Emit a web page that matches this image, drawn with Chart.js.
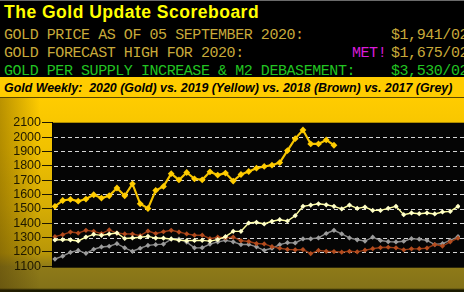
<!DOCTYPE html>
<html><head><meta charset="utf-8">
<script src="https://cdn.jsdelivr.net/npm/chart.js@4.4.1/dist/chart.umd.min.js"></script>
<style>
html,body{margin:0;padding:0;width:464px;height:292px;overflow:hidden;background:#000;}
#hdr{position:absolute;left:0;top:0;width:464px;height:77px;background:#000;border-top:1px solid #6a6a6a;box-sizing:border-box;}
.title{position:absolute;left:4px;top:1px;font:bold 17.5px "Liberation Sans",Arial,sans-serif;line-height:20px;color:#ffff00;letter-spacing:0.5px;white-space:pre;}
.led{position:absolute;font:15px "Liberation Mono","DejaVu Sans Mono",monospace;line-height:15px;letter-spacing:-0.44px;white-space:pre;}
.y{color:#c8aa3a;}
.g{color:#22c422;}
.m{color:#d81cd8;}
#bar{position:absolute;left:0;top:77px;width:464px;height:21px;background:#ffcc00;border-bottom:1px solid #5a4800;box-sizing:border-box;}
#bar span{position:absolute;left:4px;top:5px;font:italic bold 12.4px "Liberation Sans",Arial,sans-serif;line-height:13px;color:#000;white-space:pre;}
#wrap{position:absolute;left:0;top:98px;width:464px;height:194px;
 background:linear-gradient(to right,rgba(60,40,0,0.35) 0px,rgba(60,40,0,0) 40px),
 linear-gradient(to bottom,#ffcc00 0%,#f2c200 25%,#d8ae04 55%,#b89608 80%,#8e7a18 87%,#847218 98%,#1a1a00 99%);}
canvas{position:absolute;left:0;top:0;}
</style></head>
<body>
<div id="hdr">
 <div class="title">The Gold Update Scoreboard</div>
 <div class="led y" style="left:4px;top:27px;">GOLD PRICE AS OF 05 SEPTEMBER 2020:</div>
 <div class="led y" style="left:391px;top:27px;">$1,941/02</div>
 <div class="led y" style="left:4px;top:45px;">GOLD FORECAST HIGH FOR 2020:</div>
 <div class="led m" style="left:352px;top:45px;">MET!</div>
 <div class="led y" style="left:391px;top:45px;">$1,675/02</div>
 <div class="led g" style="left:4px;top:63px;">GOLD PER SUPPLY INCREASE &amp; M2 DEBASEMENT:</div>
 <div class="led g" style="left:391px;top:63px;">$3,530/02</div>
</div>
<div id="bar"><span>Gold Weekly:  2020 (Gold) vs. 2019 (Yellow) vs. 2018 (Brown) vs. 2017 (Grey)</span></div>
<div id="wrap"><canvas id="c" width="464" height="194"></canvas></div>
<script>
const weeks = Array.from({length:53},(_, i)=>'W'+i);
const gold2020 = [1517,1558,1565,1553,1568,1598,1575,1591,1645,1591,1674,1535,1502,1628,1656,1745,1701,1753,1709,1702,1758,1735,1749,1693,1739,1760,1783,1795,1804,1822,1906,1989,2049,1952,1952,1980,1943];
const gold2019 = [1283,1285,1283,1276,1303,1322,1315,1324,1331,1293,1297,1302,1308,1296,1295,1290,1281,1278,1279,1280,1275,1285,1306,1343,1343,1401,1406,1394,1413,1424,1415,1452,1517,1526,1535,1528,1517,1499,1526,1503,1512,1489,1489,1503,1517,1459,1471,1466,1471,1464,1478,1482,1517];
const gold2018 = [1306,1320,1338,1331,1350,1343,1327,1353,1331,1325,1324,1313,1345,1328,1340,1350,1338,1325,1316,1316,1292,1302,1298,1302,1278,1272,1258,1255,1236,1225,1217,1214,1216,1188,1210,1204,1202,1198,1204,1200,1212,1222,1230,1232,1228,1214,1221,1222,1226,1251,1240,1270,1295];
const gold2017 = [1150,1170,1197,1210,1190,1218,1234,1239,1257,1228,1204,1225,1245,1250,1254,1288,1289,1268,1228,1229,1254,1269,1280,1270,1251,1252,1235,1211,1225,1250,1264,1262,1290,1291,1297,1328,1350,1325,1297,1284,1275,1302,1279,1271,1269,1274,1292,1288,1280,1251,1257,1280,1306];
const yTickValues = [1100,1200,1300,1400,1500,1600,1700,1800,1900,2000,2100];

const toXY = arr => arr.map((v,i)=>({x:weeks.indexOf(weeks[i]), y:v}));

const plotBg = {
  id:'plotBg',
  beforeDraw(chart){
    const {ctx, chartArea:a} = chart;
    ctx.save();
    ctx.fillStyle = '#050505';
    ctx.fillRect(a.left, a.top, chart.width - a.left, a.bottom - a.top + 1.5);
    ctx.restore();
  },
  beforeDatasetsDraw(chart){
    const {ctx, chartArea:a} = chart;
    const ys = chart.scales.y;
    ctx.save();
    ctx.strokeStyle = '#d6d6d6';
    ctx.lineWidth = 1;
    ctx.setLineDash([4,3]);
    yTickValues.forEach(v=>{
      if (v===1100 || v===2100) return;
      const py = Math.round(ys.getPixelForValue(v)) + 0.5;
      ctx.beginPath(); ctx.moveTo(a.left + 2, py); ctx.lineTo(chart.width, py); ctx.stroke();
    });
    ctx.restore();
  }
};

function ds(label, data, line, pt, lw, r){
  return {label, data: toXY(data), borderColor: line, backgroundColor: pt,
    pointBackgroundColor: pt, pointBorderColor: pt, borderWidth: lw,
    pointStyle:'rectRot', pointRadius:r, pointBorderWidth:0, tension:0};
}

new Chart(document.getElementById('c'), {
  type:'line',
  data:{ datasets:[
    ds('2020', gold2020, '#f6c400', '#ffcc00', 2.2, 3.4),
    ds('2019', gold2019, '#ffffa0', '#ffffc8', 1.4, 2.6),
    ds('2018', gold2018, '#963a14', '#b44c1e', 1.4, 2.6),
    ds('2017', gold2017, '#8a8a8a', '#9c9c9c', 1.4, 2.6)
  ]},
  options:{
    responsive:false, animation:false, devicePixelRatio:1,
    layout:{padding:{top:24.7, bottom:25.8, left:0, right:0}},
    plugins:{legend:{display:false}, tooltip:{enabled:false}},
    scales:{
      x:{type:'linear', display:false, min:-0.38, max:52.26},
      y:{min:1100, max:2100,
        afterFit(s){ s.width = 52; },
        afterBuildTicks(s){ s.ticks = yTickValues.map(v=>({value:v})); },
        ticks:{callback:v=>String(v), color:'#1e1800', padding:1, autoSkip:false,
          font:{family:'"Liberation Sans", Arial, sans-serif', size:12.5}},
        grid:{drawOnChartArea:false, tickColor:'#1e1800', tickLength:10, lineWidth:1},
        border:{display:true, color:'#000', width:1}
      }
    }
  },
  plugins:[plotBg]
});
</script>
</body></html>
